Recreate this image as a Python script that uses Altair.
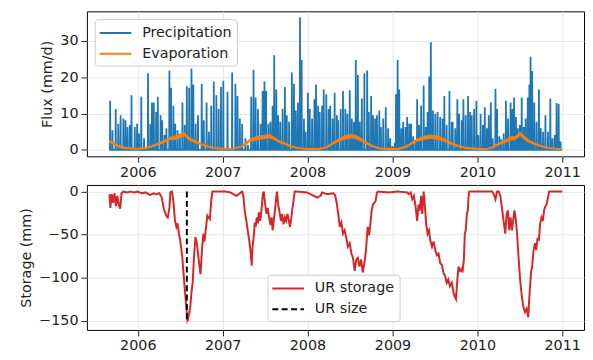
import altair as alt
import pandas as pd
import numpy as np

START = "2005-09-01"
N_DAYS = 1948

# Precipitation spikes: day offset from START, value (mm/d); other days ~0
precip_day = [3, 13, 27, 38, 48, 60, 69, 78, 88, 95, 109, 119, 127, 137, 149, 166, 176, 183, 191, 201,
              208, 220, 227, 237, 245, 258, 265, 275, 283, 293, 303, 314, 324, 333, 343, 353, 361, 371, 381, 397,
              406, 418, 428, 438, 449, 460, 470, 480, 490, 508, 528, 542, 551, 561, 571, 585, 596, 610, 620, 629,
              639, 650, 659, 667, 674, 684, 693, 702, 709, 718, 726, 735, 745, 755, 763, 773, 785, 794, 802, 811,
              820, 827, 837, 844, 854, 862, 872, 882, 889, 898, 905, 915, 922, 933, 943, 950, 960, 969, 979,
              984, 995, 1005, 1015, 1024, 1034, 1043, 1052, 1060, 1069, 1077, 1086, 1097, 1109, 1116, 1126, 1134,
              1143, 1151, 1161, 1168, 1178, 1189, 1199, 1208, 1218, 1228, 1233, 1240, 1247, 1256, 1264, 1274, 1281,
              1290, 1298, 1307, 1317, 1324, 1332, 1341, 1352, 1361, 1369, 1376, 1383, 1392, 1402, 1412, 1423, 1433,
              1441, 1451, 1463, 1473,
              1477, 1488, 1497, 1505, 1516, 1523, 1533, 1543, 1552, 1559, 1569, 1579, 1587, 1597, 1607, 1615, 1624,
              1632, 1641, 1649, 1661, 1668, 1678, 1686, 1696, 1706, 1715, 1726, 1734, 1741, 1749, 1757, 1766, 1774,
              1783, 1791, 1800, 1807, 1812, 1819, 1828, 1838, 1848, 1856, 1866, 1876, 1887, 1897, 1906, 1916, 1924,
              1933, 1941]
precip_mm = [13.5, 5.4, 11.2, 7.2, 9.5, 8.6, 8.1, 6.3, 6.8, 15.0, 6.3, 7.2, 4.5, 14.6, 3.2, 21.1, 7.2, 13.0, 13.0, 10.4,
             14.6, 9.5, 8.1, 4.1, 5.9, 21.8, 17.1, 12.1, 7.2, 5.4, 4.1, 13.0, 6.8, 17.5, 17.1, 22.4, 18.0, 7.2, 9.5, 18.2,
             8.1, 13.0, 5.0, 12.1, 18.8, 15.0, 11.2, 17.3, 19.0, 16.0, 21.3, 18.2, 14.8, 8.6, 7.2, 3.2, 1.4, 14.6, 22.0, 14.4,
             11.2, 7.2, 16.2, 18.8, 16.2, 7.2, 7.7, 12.1, 26.0, 16.6, 9.5, 7.7, 11.2, 17.3, 9.5, 7.7, 21.3, 18.2, 10.8, 13.0,
             36.5, 24.7, 8.6, 5.0, 15.7, 11.2, 8.6, 13.9, 18.0, 12.1, 10.4, 12.1, 16.6, 15.3, 11.2, 12.1, 8.6, 15.7, 9.5,
             8.1, 11.2, 16.2, 11.2, 9.9, 16.4, 8.6, 7.7, 24.7, 20.6, 7.7, 14.1, 21.1, 21.8, 10.4, 14.8, 9.5,
             8.6, 9.5, 10.8, 6.3, 8.6, 11.7, 5.9, 3.2, 1.0, 1.9, 15.3, 24.7, 16.6, 5.9, 7.7, 6.3, 9.0,
             7.2, 7.2, 3.7, 2.3, 13.9, 6.8, 12.1, 17.7, 6.3, 10.4, 20.2, 29.6, 10.8, 9.9, 10.4, 9.0, 8.6,
             14.8, 6.8, 16.2, 7.7,
             7.7, 5.9, 13.9, 9.9, 8.1, 13.9, 9.5, 14.8, 10.4, 9.5, 11.2, 13.5, 4.1, 9.9, 6.8, 11.7, 5.9,
             9.5, 13.0, 3.2, 16.8, 11.2, 3.7, 2.8, 4.5, 13.5, 8.6, 13.0, 11.2, 14.4, 9.0, 5.9, 6.8, 14.4,
             6.3, 8.6, 14.4, 18.0, 25.6, 21.7, 13.0, 7.7, 16.6, 5.9, 5.0, 9.5, 5.0, 14.1, 3.2, 4.1, 12.9,
             12.6, 2.3]

# Evaporation: sampled day offsets, central value and half-width of the noisy band (mm/d)
evap_day = [0, 15, 35, 60, 90, 122, 150, 180, 200, 222, 244, 265, 286, 307, 322, 336, 350, 371, 392, 421,
            449, 491, 530, 568, 589, 603, 625, 646, 667, 688, 709, 731, 752, 780, 809, 851, 900, 935, 964, 984,
            1012, 1041, 1062, 1083, 1104, 1126, 1154, 1190, 1240, 1265, 1281, 1303, 1324, 1352, 1380, 1409, 1437,
            1465, 1494, 1520, 1550, 1600, 1630, 1647, 1675, 1703, 1725, 1746, 1767, 1781, 1802, 1831, 1859, 1887,
            1923, 1948]
evap_mm = [2.4, 1.8, 1.1, 0.6, 0.4, 0.3, 0.5, 0.9, 1.4, 1.9, 2.6, 3.2, 3.4, 4.0, 4.3, 3.4, 2.8, 2.2, 1.6, 1.0,
           0.5, 0.3, 0.3, 0.9, 1.8, 2.6, 3.0, 3.4, 3.5, 3.8, 3.1, 2.3, 1.8, 1.0, 0.5, 0.2, 0.2, 0.7, 1.9, 2.6,
           3.4, 3.8, 3.5, 2.8, 1.9, 1.2, 0.5, 0.2, 0.2, 0.6, 1.0, 1.9, 2.7, 3.3, 3.6, 3.4, 2.8,
           1.9, 1.2, 0.7, 0.4, 0.2, 0.3, 0.7, 1.6, 2.4, 3.1, 3.2, 4.4, 3.6, 2.5, 1.6, 1.0, 0.5,
           0.3, 0.2]
evap_spread = [0.4, 0.3, 0.3, 0.2, 0.15, 0.15, 0.15, 0.2, 0.3, 0.4, 0.5, 0.5, 0.6, 0.6, 0.6, 0.5, 0.5, 0.4, 0.3, 0.25,
               0.15, 0.1, 0.1, 0.2, 0.4, 0.5, 0.6, 0.6, 0.6, 0.6, 0.5, 0.4, 0.3, 0.25, 0.15, 0.1, 0.1, 0.2, 0.4, 0.5,
               0.6, 0.6, 0.6, 0.5, 0.4, 0.3, 0.15, 0.1, 0.1, 0.15, 0.25, 0.4, 0.5, 0.6, 0.6, 0.6, 0.5,
               0.4, 0.3, 0.2, 0.15, 0.1, 0.1, 0.2, 0.3, 0.5, 0.6, 0.6, 0.6, 0.6, 0.5, 0.3, 0.25, 0.15,
               0.1, 0.1]

# Unsaturated-root-zone storage (mm)
stor_day = [0, 4, 10, 16, 22, 28, 34, 40, 46, 52, 60, 75, 90, 105, 120, 140, 155, 175, 190, 200, 215, 225, 234, 244,
            251, 258, 262, 269, 275, 282, 288, 293, 299, 304, 313, 322, 330, 336, 341, 347, 353, 358, 364, 370, 375,
            381, 387, 392, 398, 404, 409, 415, 421, 426, 432, 438, 443, 499, 520, 547, 561, 571, 576, 582, 589, 596,
            602, 608, 612, 616, 622, 625, 629, 634, 639, 643, 649, 654, 660, 664, 670, 676, 681, 687, 693, 698, 702,
            707, 712, 717, 721, 726, 732, 738, 743, 749, 755, 760, 766, 772, 777, 783, 787, 792, 797, 803, 850, 894,
            908, 915, 936, 964, 971, 979, 986, 991, 998, 1005, 1012, 1019, 1026, 1034, 1041, 1048, 1055, 1062, 1069,
            1076, 1083, 1090, 1097, 1104, 1111, 1117, 1123, 1128, 1134, 1140, 1145, 1151, 1157, 1200, 1240, 1281,
            1288, 1296, 1303, 1310, 1317, 1324, 1330, 1335, 1341, 1346, 1352, 1358, 1363, 1369, 1375, 1380, 1388,
            1395, 1402, 1409, 1416, 1423, 1430, 1437, 1444, 1451, 1458, 1465, 1473, 1480, 1487, 1491, 1497, 1502,
            1508, 1514, 1519, 1525, 1529, 1533, 1538, 1542, 1545, 1548, 1600, 1647, 1654, 1661, 1668, 1675, 1682,
            1689, 1696, 1703, 1709, 1715, 1720, 1726, 1732, 1737, 1743, 1749, 1754, 1760, 1767, 1774, 1781, 1788,
            1795, 1802, 1808, 1814, 1819, 1825, 1831, 1836, 1842, 1848, 1853, 1859, 1865, 1870, 1876, 1881, 1887,
            1892, 1948]
stor_mm = [-3, -19, -3, -13, -2, -17, -5, -15, -20, -2, 0, -1, 0, -1, 0, -2, -1, -4, -2, -3, -2, -7, -20, -28,
           -30, -19, -1, 0, -11, -34, -41, -37, -49, -56, -75, -106, -132, -151, -144, -136, -117, -106, -75, -53, -58,
           -72, -86, -96, -68, -49, -58, -43, -28, -30, -32, -11, 0, 0, -1, -5, -2, 0, -5, -22, -34, -47,
           -58, -72, -86, -64, -49, -36, -41, -30, -37, -24, -34, -22, -3, 0, -15, -26, -19, -30, -39, -30, -45,
           -34, -22, -9, 0, -15, -24, -34, -26, -38, -30, -34, -26, -34, -41, -30, -20, -11, 0, 0, -1, -7,
           -5, -1, -3, -2, -4, -15, -30, -41, -36, -49, -45, -54, -64, -60, -72, -77, -92, -79, -77,
           -87, -79, -94, -83, -68, -41, -51, -37, -22, -15, -13, -11, -1, 0, -1, 0, -1,
           -3, -1, -9, -5, -17, -34, -15, -22, -5, -26, 0, -19, -38, -49, -45, -56, -64,
           -58, -68, -74, -72, -83, -85, -94, -98, -106, -102, -110, -106, -117, -123, -125, -102, -87,
           -92, -90, -94, -79, -49, -45, -26, -22, -7, 0, 0, 0, -3, -9, 0, 0, -5,
           -19, -34, -49, -26, -22, -45, -30, -45, -34, -22, -34, -49, -75, -102, -121, -134, -140,
           -136, -146, -117, -94, -87, -68, -60, -68, -55, -56, -38, -30, -34, -22, -17, -15, -7,
           0, 0]

ur_size_day = 333
ur_size_mm = 153.0

FONT = "DejaVu Sans"
TXT = "#222222"

base = pd.Timestamp(START)
all_days = np.arange(N_DAYS + 1)
p = np.zeros(N_DAYS + 1)
p[np.array(precip_day)] = precip_mm
df_p = pd.DataFrame({"date": base + pd.to_timedelta(all_days, unit="D"), "value": p,
                     "series": "Precipitation"})

ev = np.array(evap_mm)
sp = np.array(evap_spread)
df_e = pd.DataFrame({"date": base + pd.to_timedelta(evap_day, unit="D"), "value": ev,
                     "lo": ev - sp, "hi": ev + sp, "series": "Evaporation"})

df_s = pd.DataFrame({"date": base + pd.to_timedelta(stor_day, unit="D"), "value": stor_mm,
                     "series": "UR storage"})
df_r = pd.DataFrame({"date": [base + pd.Timedelta(days=ur_size_day)], "top": [0.0],
                     "bottom": [-ur_size_mm], "series": ["UR size"]})

xscale = alt.Scale(domain=[alt.DateTime(year=2005, month=5, date=27),
                           alt.DateTime(year=2011, month=4, date=5)])
xaxis = alt.Axis(title=None, format="%Y",
                 values=[alt.DateTime(year=y, month=1, date=1) for y in range(2006, 2012)])


def legend(x, y):
    # wide horizontal line symbol (custom path extends beyond unit box)
    return alt.Legend(title=None, orient="none", legendX=x, legendY=y, symbolType="M-2,0H2",
                      symbolSize=256, symbolStrokeWidth=2, symbolOffset=7, labelFont=FONT,
                      labelFontSize=14.5, labelColor=TXT, labelOffset=18, padding=5, rowPadding=5,
                      fillColor="rgba(255,255,255,0.85)", strokeColor="#cccccc", cornerRadius=3)


W, H = 504, 147

top_color = alt.Color("series:N", scale=alt.Scale(domain=["Precipitation", "Evaporation"],
                                                  range=["#1f77b4", "#ff7f0e"]), legend=legend(8, 8))
top_y = alt.Scale(domain=[-1.8, 38.1], nice=False, zero=False)
top_yaxis = alt.Axis(title="Flux (mm/d)", values=[0, 10, 20, 30])

precip = alt.Chart(df_p).mark_line(strokeWidth=1.8).encode(
    x=alt.X("date:T", scale=xscale, axis=xaxis),
    y=alt.Y("value:Q", scale=top_y, axis=top_yaxis),
    color=top_color)
band = alt.Chart(df_e).mark_area(color="#ff7f0e", opacity=0.9).encode(
    x="date:T", y="lo:Q", y2="hi:Q")
evap = alt.Chart(df_e).mark_line(strokeWidth=2.2).encode(
    x="date:T", y="value:Q", color=top_color)
top = alt.layer(precip, band, evap).properties(width=W, height=H)

bot_dom = ["UR storage", "UR size"]
bot_leg = legend(183, 91)
bot_color = alt.Color("series:N", scale=alt.Scale(domain=bot_dom, range=["#d62728", "#000000"]),
                      legend=bot_leg)
bot_dash = alt.StrokeDash("series:N", scale=alt.Scale(domain=bot_dom, range=[[1, 0], [6, 3.5]]),
                          legend=bot_leg)
bot_y = alt.Scale(domain=[-160.7, 7.65], nice=False, zero=False)
bot_yaxis = alt.Axis(title="Storage (mm)", values=[0, -50, -100, -150])

stor = alt.Chart(df_s).mark_line(strokeWidth=2).encode(
    x=alt.X("date:T", scale=xscale, axis=xaxis),
    y=alt.Y("value:Q", scale=bot_y, axis=bot_yaxis),
    color=bot_color, strokeDash=bot_dash)
rule = alt.Chart(df_r).mark_rule(strokeWidth=2).encode(
    x="date:T", y="top:Q", y2="bottom:Q", color=bot_color, strokeDash=bot_dash)
bottom = alt.layer(stor, rule).properties(width=W, height=H)

chart = alt.vconcat(top, bottom, spacing=4).resolve_scale(color="independent", strokeDash="independent").properties(
    padding={"left": 10, "top": 0, "right": 0, "bottom": 0}
).configure_view(stroke="#000000", strokeWidth=1).configure_axis(
    labelFont=FONT, labelFontSize=14.5, labelColor=TXT, titleFont=FONT, titleFontSize=14.5,
    titleFontWeight="normal", titleColor=TXT, titlePadding=5, domain=False, tickColor=TXT,
    tickSize=6, tickWidth=1, labelPadding=3, gridColor="#e6e6e6", gridWidth=1)

chart.save("out.html", embed_options={"renderer": "svg", "actions": False})
